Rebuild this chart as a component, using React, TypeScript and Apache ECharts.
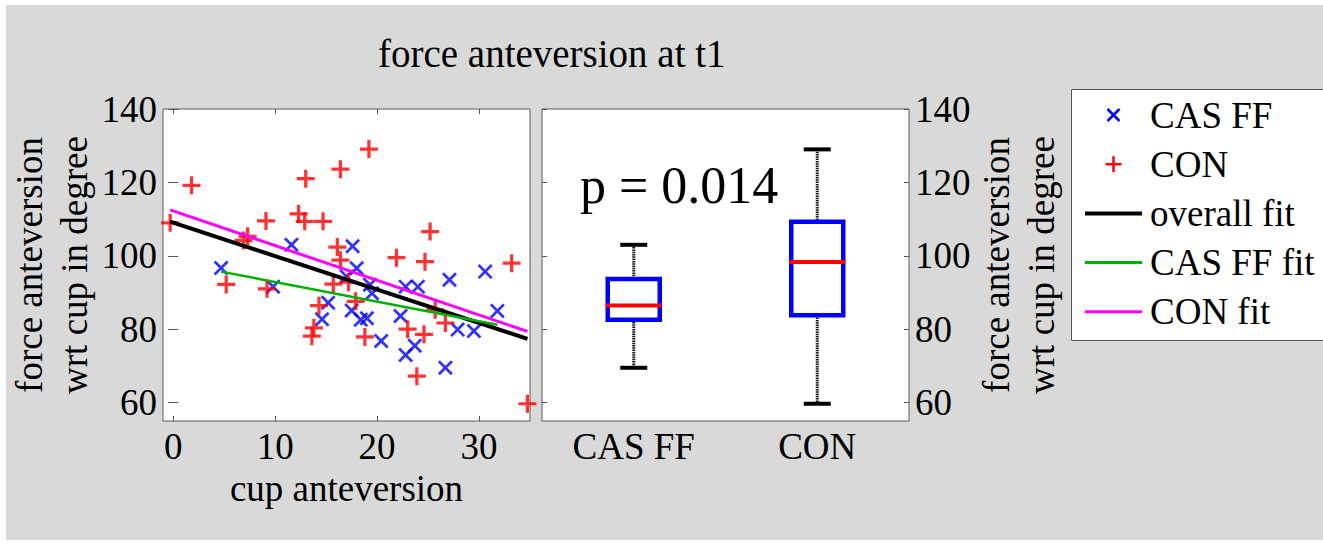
import React, { useEffect, useRef } from 'react';
import * as echarts from 'echarts';

// ---- data ----
const casX = [4.7, 9.8, 11.6, 14.6, 15.2, 17.0, 17.5, 17.6, 18.0, 18.4, 19.0, 19.3, 19.5, 20.4, 22.3, 22.8, 22.8, 23.7, 24.0, 26.7, 27.1, 27.9, 29.5, 30.6, 31.8];
const casY = [96.7, 91.6, 103.0, 82.7, 87.2, 94.4, 85.1, 102.6, 96.6, 82.6, 83.0, 92.1, 89.8, 76.8, 83.6, 91.6, 73.0, 75.5, 91.6, 69.5, 93.5, 79.9, 79.5, 95.7, 85.0];

const conX = [-0.3, 1.8, 5.2, 6.9, 7.3, 9.1, 9.2, 12.3, 12.9, 13.0, 13.6, 13.8, 14.3, 14.7, 15.7, 16.1, 16.4, 16.4, 17.2, 17.9, 18.8, 19.2, 21.9, 23.0, 23.9, 24.6, 24.7, 25.2, 25.7, 26.7, 33.2, 34.75];
const conY = [109.0, 119.2, 92.2, 104.2, 105.3, 109.5, 91.0, 111.4, 109.4, 121.0, 78.1, 80.4, 86.4, 109.4, 92.3, 102.4, 98.8, 123.6, 92.8, 87.6, 77.9, 129.1, 99.5, 80.0, 67.2, 78.6, 98.4, 106.6, 85.3, 81.7, 98.0, 59.7];

const overallFitX = [-0.3, 34.75];
const overallFitY = [109.3, 77.4];
const casFitX = [4.7, 31.8];
const casFitY = [95.7, 81.2];
const conFitX = [-0.3, 34.75];
const conFitY = [112.5, 79.4];

const boxCategories = ['CAS FF', 'CON'];
const boxMin = [69.5, 59.7];
const boxQ1 = [82.6, 83.8];
const boxMedian = [86.5, 98.3];
const boxQ3 = [93.7, 109.3];
const boxMax = [103.0, 129.0];

const xTicks = [0, 10, 20, 30];
const yTicks = [60, 80, 100, 120, 140];

const legendNames = ['CAS FF', 'CON', 'overall fit', 'CAS FF fit', 'CON fit'];
const legendKinds = ['cross', 'plus', 'line', 'line', 'line'];
const legendColors = ['#0000ff', '#ff0000', '#000000', '#00b000', '#ff00ff'];
const legendWidths = [2.5, 2.5, 4, 3, 3];

const titleText = 'force anteversion at t1';
const pText = 'p = 0.014';
const yName = 'force anteversion\nwrt cup in degree';
const xName = 'cup anteversion';

const FONT = 'Liberation Serif';
const PLUS = 'path://M41 0H59V41H100V59H59V100H41V59H0V41H41Z';
const CROSS = 'path://M0 13L13 0L100 87L87 100ZM87 0L100 13L13 100L0 87Z';

function buildLegend() {
  const left = 1071;
  const top = 89;
  const rowTop = 115;
  const rowStep = 49.2;
  const children: any[] = [
    {
      type: 'rect',
      shape: { x: left + 0.5, y: top + 0.5, width: 280, height: 251 },
      style: { fill: '#fff', stroke: '#555', lineWidth: 1 },
    },
  ];
  legendNames.forEach((name, i) => {
    const cy = rowTop + rowStep * i;
    const color = legendColors[i];
    const lw = legendWidths[i];
    const kind = legendKinds[i];
    const mx = 1113.5;
    if (kind === 'cross') {
      const h = 6;
      children.push({ type: 'line', shape: { x1: mx - h, y1: cy - h, x2: mx + h, y2: cy + h }, style: { stroke: color, lineWidth: lw } });
      children.push({ type: 'line', shape: { x1: mx - h, y1: cy + h, x2: mx + h, y2: cy - h }, style: { stroke: color, lineWidth: lw } });
    } else if (kind === 'plus') {
      const h = 8;
      children.push({ type: 'line', shape: { x1: mx - h, y1: cy, x2: mx + h, y2: cy }, style: { stroke: color, lineWidth: lw } });
      children.push({ type: 'line', shape: { x1: mx, y1: cy - h, x2: mx, y2: cy + h }, style: { stroke: color, lineWidth: lw } });
    } else {
      children.push({ type: 'line', shape: { x1: 1085, y1: cy, x2: 1142, y2: cy }, style: { stroke: color, lineWidth: lw } });
    }
    children.push({
      type: 'text',
      x: 1150,
      y: cy,
      style: { text: name, fontFamily: FONT, fontSize: 37, fill: '#000', align: 'left', verticalAlign: 'middle' },
    });
  });
  return { type: 'group', z: 60, children };
}

export default function App() {
  const ref = useRef<HTMLDivElement>(null);
  useEffect(() => {
    document.body.style.margin = '0';
    const chart = echarts.init(ref.current!, null, { renderer: 'svg' });
    const txt = { fontFamily: FONT, fontSize: 37, color: '#000', lineHeight: 37 };
    const tickLine = { color: '#555', width: 1 };
    const yTick = { show: true, inside: true, length: 5, lineStyle: tickLine, customValues: yTicks };
    const xTick = { show: true, inside: true, length: 5, lineStyle: tickLine, customValues: xTicks };
    const option: any = {
      animation: false,
      textStyle: { fontFamily: FONT },
      title: {
        text: titleText,
        left: 378,
        top: 34,
        padding: 0,
        textStyle: { fontFamily: FONT, fontSize: 39, fontWeight: 'normal', color: '#000', lineHeight: 39 },
      },
      graphic: [
        {
          type: 'text',
          x: 580,
          y: 185,
          z: 50,
          style: { text: pText, fontFamily: FONT, fontSize: 52, fill: '#000', align: 'left', verticalAlign: 'middle' },
        },
        buildLegend(),
      ],
      grid: [
        { left: 163, top: 109, width: 367, height: 312, show: true, backgroundColor: '#fff', borderColor: '#5a5a5a', borderWidth: 1 },
        { left: 542, top: 109, width: 367, height: 312, show: true, backgroundColor: '#fff', borderColor: '#5a5a5a', borderWidth: 1 },
      ],
      xAxis: [
        {
          type: 'value', gridIndex: 0, position: 'bottom', min: -1, max: 35,
          axisLine: { show: false }, splitLine: { show: false }, axisTick: xTick,
          axisLabel: { ...txt, customValues: xTicks, margin: 7 },
          name: xName, nameLocation: 'middle', nameGap: 44, nameTextStyle: txt,
        },
        {
          type: 'value', gridIndex: 0, position: 'top', min: -1, max: 35,
          axisLine: { show: false }, splitLine: { show: false }, axisTick: xTick,
          axisLabel: { show: false },
        },
        {
          type: 'category', gridIndex: 1, position: 'bottom', data: boxCategories,
          axisLine: { show: false }, axisTick: { show: false }, splitLine: { show: false },
          axisLabel: { ...txt, margin: 7 },
        },
      ],
      yAxis: [
        {
          type: 'value', gridIndex: 0, position: 'left', min: 55, max: 140,
          axisLine: { show: false }, splitLine: { show: false }, axisTick: yTick,
          axisLabel: { ...txt, customValues: yTicks, margin: 6 },
          name: yName, nameLocation: 'middle', nameRotate: 90, nameGap: 66,
          nameTextStyle: { ...txt, lineHeight: 45 },
        },
        {
          type: 'value', gridIndex: 0, position: 'right', min: 55, max: 140,
          axisLine: { show: false }, splitLine: { show: false }, axisTick: yTick,
          axisLabel: { show: false },
        },
        {
          type: 'value', gridIndex: 1, position: 'left', min: 55, max: 140,
          axisLine: { show: false }, splitLine: { show: false }, axisTick: yTick,
          axisLabel: { show: false },
        },
        {
          type: 'value', gridIndex: 1, position: 'right', min: 55, max: 140,
          axisLine: { show: false }, splitLine: { show: false }, axisTick: yTick,
          axisLabel: { ...txt, customValues: yTicks, margin: 6 },
          name: yName, nameLocation: 'middle', nameRotate: 90, nameGap: 64,
          nameTextStyle: { ...txt, lineHeight: 45 },
        },
      ],
      series: [
        {
          name: 'CAS FF', type: 'scatter', xAxisIndex: 0, yAxisIndex: 0,
          symbol: CROSS, symbolSize: 15, color: '#0000ff', clip: false,
          data: casX.map((x, i) => [x, casY[i]]),
        },
        {
          name: 'CON', type: 'scatter', xAxisIndex: 0, yAxisIndex: 0,
          symbol: PLUS, symbolSize: 18, color: '#ff0000', clip: false,
          data: conX.map((x, i) => [x, conY[i]]),
        },
        {
          name: 'overall fit', type: 'line', xAxisIndex: 0, yAxisIndex: 0, showSymbol: false,
          color: '#000', lineStyle: { color: '#000', width: 4 },
          data: overallFitX.map((x, i) => [x, overallFitY[i]]),
        },
        {
          name: 'CAS FF fit', type: 'line', xAxisIndex: 0, yAxisIndex: 0, showSymbol: false,
          color: '#00b000', lineStyle: { color: '#00b000', width: 2.5 },
          data: casFitX.map((x, i) => [x, casFitY[i]]),
        },
        {
          name: 'CON fit', type: 'line', xAxisIndex: 0, yAxisIndex: 0, showSymbol: false,
          color: '#ff00ff', lineStyle: { color: '#ff00ff', width: 3 },
          data: conFitX.map((x, i) => [x, conFitY[i]]),
        },
        {
          name: 'box', type: 'custom', xAxisIndex: 2, yAxisIndex: 2,
          encode: { x: 0, y: [1, 2, 3, 4, 5] },
          data: boxCategories.map((c, i) => [i, boxMin[i], boxQ1[i], boxMedian[i], boxQ3[i], boxMax[i]]),
          renderItem: (params: any, api: any) => {
            const cat = api.value(0);
            const lo = api.coord([cat, api.value(1)]);
            const q1 = api.coord([cat, api.value(2)]);
            const med = api.coord([cat, api.value(3)]);
            const q3 = api.coord([cat, api.value(4)]);
            const hi = api.coord([cat, api.value(5)]);
            const cx = lo[0];
            const bw = 52;
            const cw = 27;
            const dash = { stroke: '#1a1a1a', lineWidth: 3, lineDash: [1.5, 0.8] };
            return {
              type: 'group',
              children: [
                { type: 'line', shape: { x1: cx, y1: hi[1], x2: cx, y2: q3[1] }, style: dash },
                { type: 'line', shape: { x1: cx, y1: q1[1], x2: cx, y2: lo[1] }, style: dash },
                { type: 'line', shape: { x1: cx - cw / 2, y1: hi[1], x2: cx + cw / 2, y2: hi[1] }, style: { stroke: '#000', lineWidth: 4 } },
                { type: 'line', shape: { x1: cx - cw / 2, y1: lo[1], x2: cx + cw / 2, y2: lo[1] }, style: { stroke: '#000', lineWidth: 4 } },
                { type: 'rect', shape: { x: cx - bw / 2, y: q3[1], width: bw, height: q1[1] - q3[1] }, style: { fill: 'none', stroke: '#0000ff', lineWidth: 4.5 } },
                { type: 'line', shape: { x1: cx - bw / 2 - 2, y1: med[1], x2: cx + bw / 2 + 2, y2: med[1] }, style: { stroke: '#ff0000', lineWidth: 4 } },
              ],
            };
          },
        },
      ],
    };
    chart.setOption(option);
    return () => chart.dispose();
  }, []);
  return (
    <div style={{ position: 'relative', width: 1323, height: 545, background: '#fff', overflow: 'hidden' }}>
      <div style={{ position: 'absolute', left: 6, top: 5, width: 1317, height: 535, background: '#d9d9d9' }} />
      <div ref={ref} style={{ position: 'absolute', left: 0, top: 0, width: 1323, height: 545 }} />
    </div>
  );
}
